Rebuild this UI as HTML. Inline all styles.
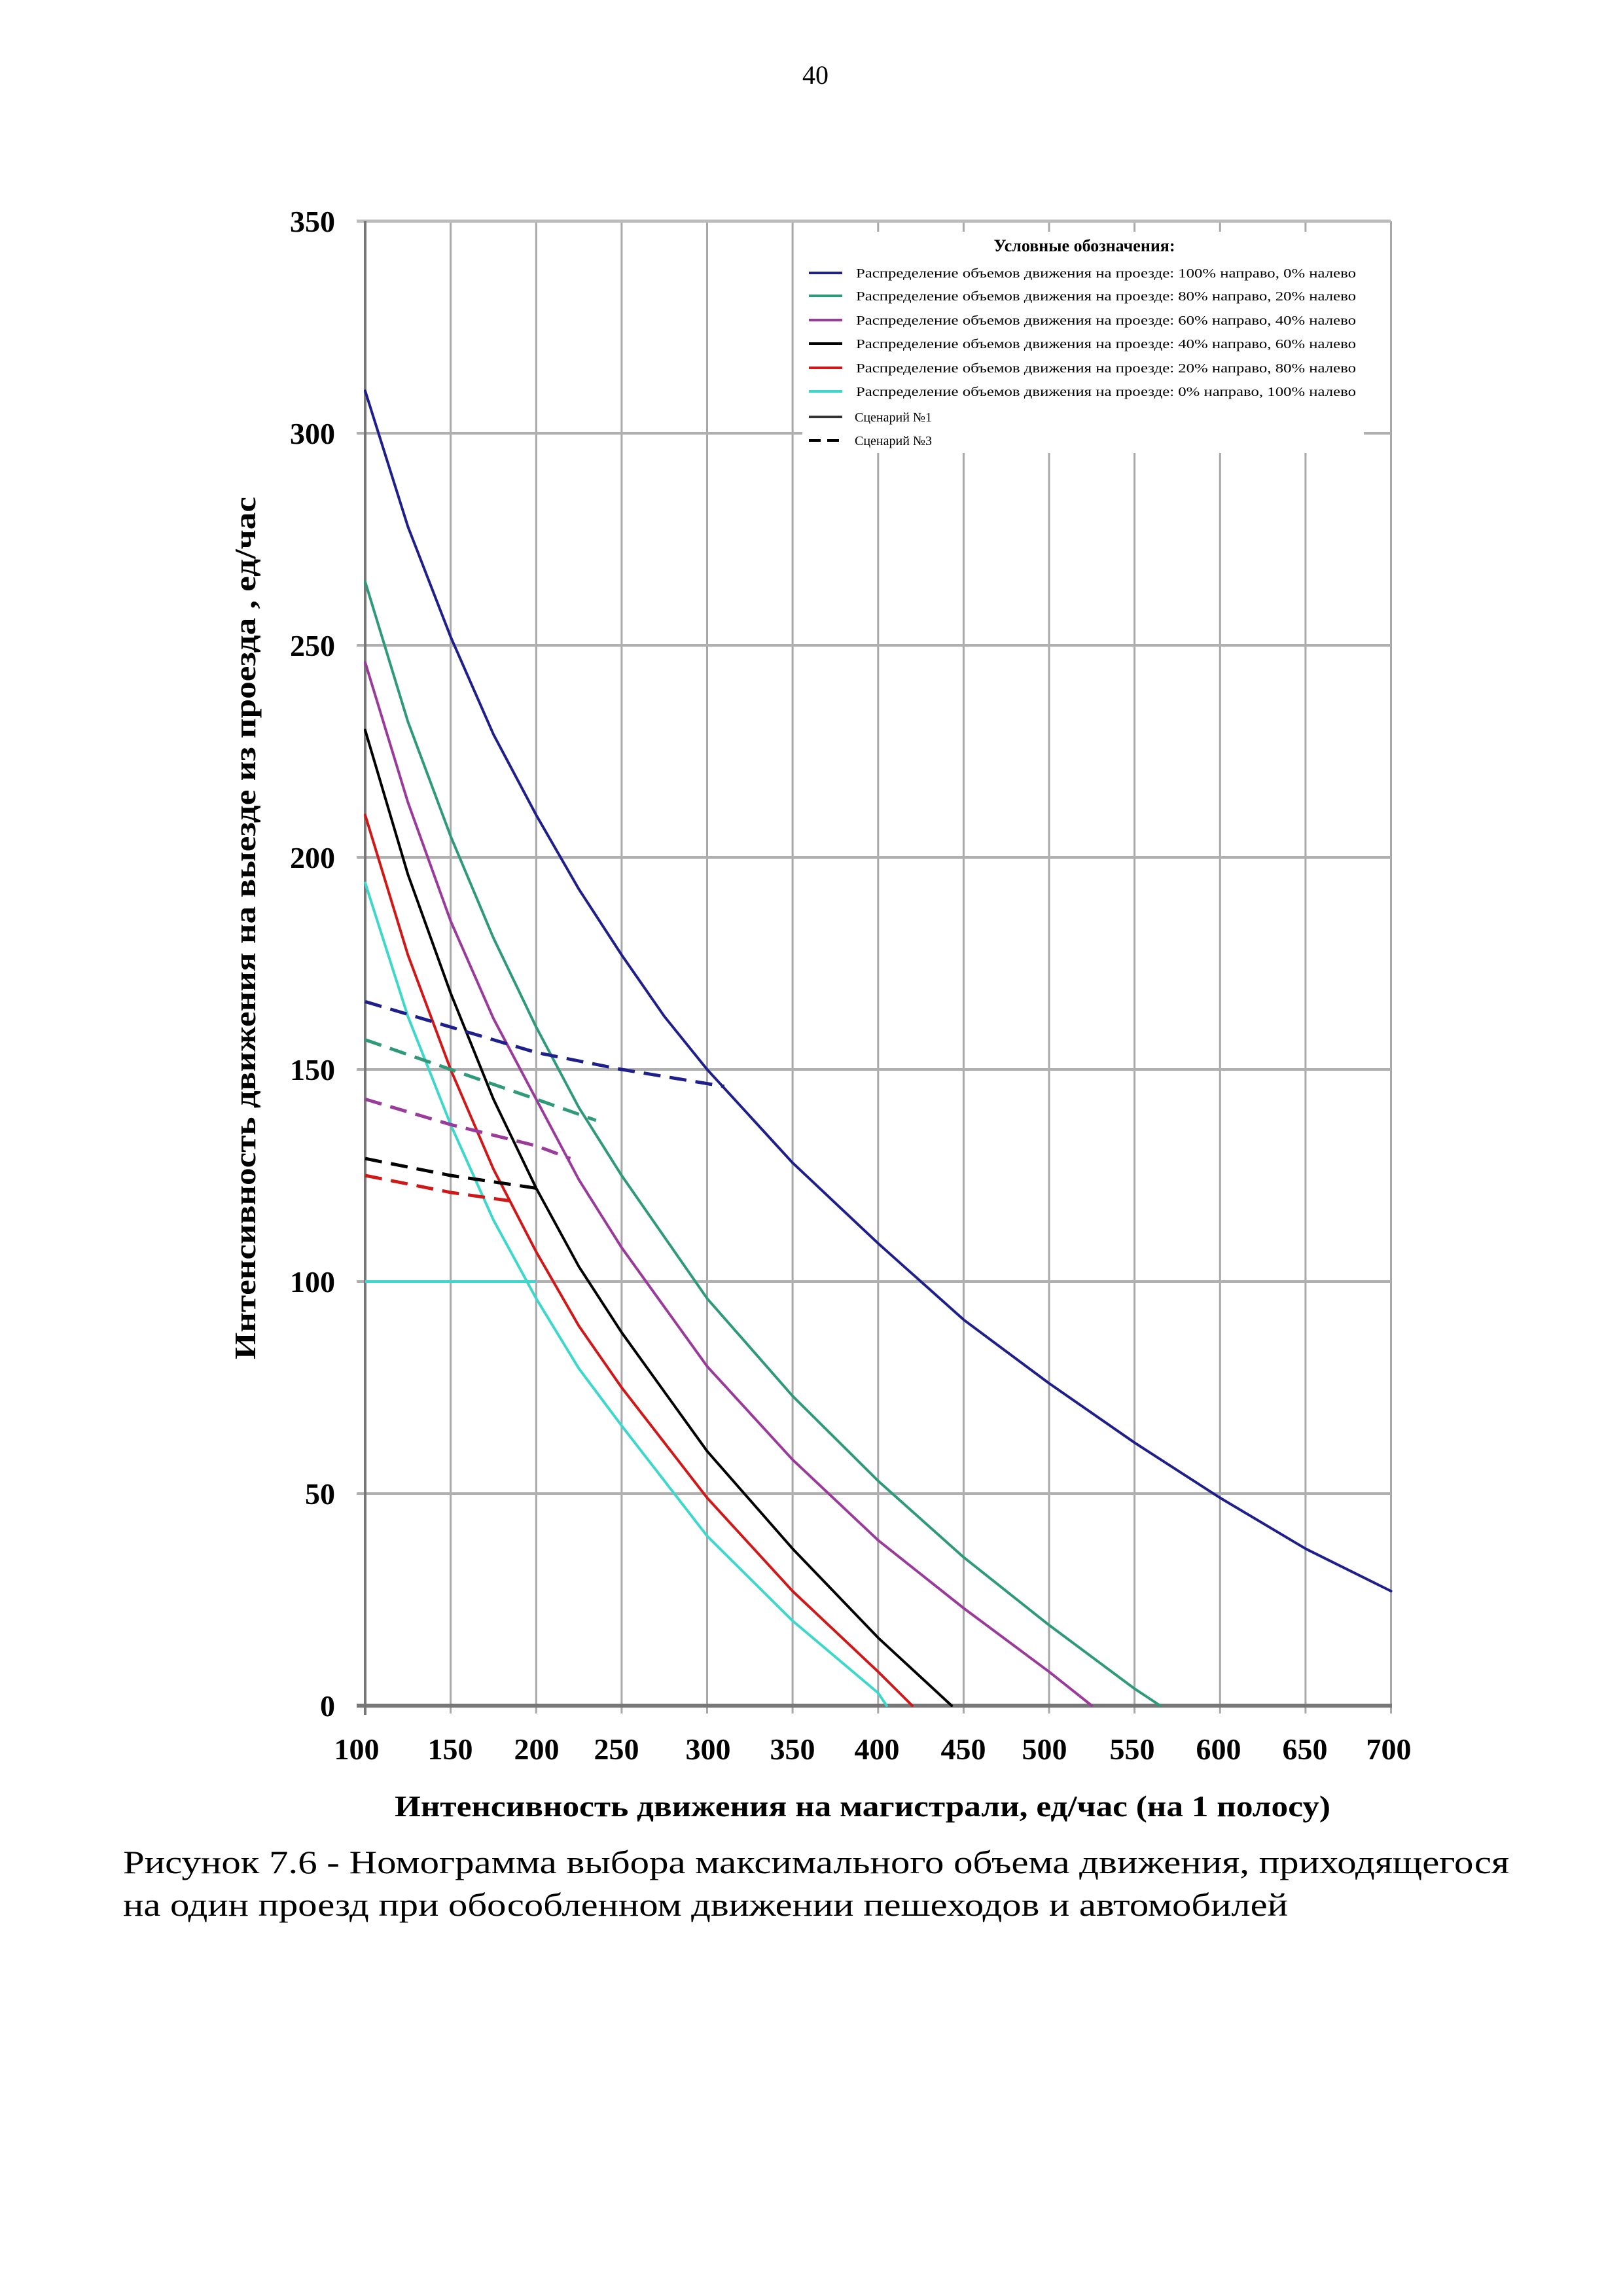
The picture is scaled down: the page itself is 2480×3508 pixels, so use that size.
<!DOCTYPE html>
<html><head><meta charset="utf-8"><style>
html,body{margin:0;padding:0;background:#fff;}
svg{display:block;}
</style></head><body>
<svg width="2480" height="3508" viewBox="0 0 2480 3508" xmlns="http://www.w3.org/2000/svg" font-family="Liberation Serif, serif">
<rect width="2480" height="3508" fill="#fff"/>
<text x="1246" y="128" font-size="40" text-anchor="middle">40</text>
<g stroke="#a8a8a8" stroke-width="3">
<line x1="688.6" y1="338" x2="688.6" y2="2618"/><line x1="819.3" y1="338" x2="819.3" y2="2618"/>
<line x1="949.9" y1="338" x2="949.9" y2="2618"/><line x1="1080.5" y1="338" x2="1080.5" y2="2618"/>
<line x1="1211.1" y1="338" x2="1211.1" y2="2618"/><line x1="1341.8" y1="338" x2="1341.8" y2="2618"/>
<line x1="1472.4" y1="338" x2="1472.4" y2="2618"/><line x1="1603" y1="338" x2="1603" y2="2618"/>
<line x1="1733.6" y1="338" x2="1733.6" y2="2618"/><line x1="1864.3" y1="338" x2="1864.3" y2="2618"/>
<line x1="1994.9" y1="338" x2="1994.9" y2="2618"/><line x1="2125.5" y1="338" x2="2125.5" y2="2618"/>
<line x1="545" y1="338" x2="2125" y2="338" stroke-width="5" stroke="#bbb"/>
<line x1="545" y1="662" x2="2125" y2="662" stroke-width="4" stroke="#b0b0b0"/>
<line x1="545" y1="986" x2="2125" y2="986" stroke-width="4" stroke="#b0b0b0"/>
<line x1="545" y1="1310" x2="2125" y2="1310" stroke-width="4" stroke="#b0b0b0"/>
<line x1="545" y1="1634" x2="2125" y2="1634" stroke-width="4" stroke="#b0b0b0"/>
<line x1="545" y1="1958" x2="2125" y2="1958" stroke-width="4" stroke="#b0b0b0"/>
<line x1="545" y1="2282" x2="2125" y2="2282" stroke-width="4" stroke="#b0b0b0"/>
</g>
<rect x="1226" y="354" width="858" height="338" fill="#fff"/>
<line x1="558" y1="338" x2="558" y2="2620" stroke="#777" stroke-width="4"/>
<line x1="545" y1="2606" x2="2127" y2="2606" stroke="#777" stroke-width="6"/>
<g font-weight="bold" font-size="46" text-anchor="end">
<text x="512" y="354">350</text><text x="512" y="678">300</text><text x="512" y="1002">250</text>
<text x="512" y="1326">200</text><text x="512" y="1650">150</text><text x="512" y="1974">100</text>
<text x="512" y="2298">50</text><text x="512" y="2622">0</text>
</g>
<g font-weight="bold" font-size="46" text-anchor="middle">
<text x="545" y="2688">100</text><text x="688" y="2688">150</text><text x="820" y="2688">200</text>
<text x="942" y="2688">250</text><text x="1082" y="2688">300</text><text x="1211" y="2688">350</text>
<text x="1340" y="2688">400</text><text x="1472" y="2688">450</text><text x="1596" y="2688">500</text>
<text x="1730" y="2688">550</text><text x="1862" y="2688">600</text><text x="1994" y="2688">650</text>
<text x="2122" y="2688">700</text>
</g>
<text x="1318" y="2775" font-weight="bold" font-size="46" text-anchor="middle" textLength="1430" lengthAdjust="spacingAndGlyphs">Интенсивность движения на магистрали, ед/час (на 1 полосу)</text>
<text transform="translate(390,1418) rotate(-90)" font-weight="bold" font-size="46" text-anchor="middle" textLength="1318" lengthAdjust="spacingAndGlyphs">Интенсивность движения на выезде из проезда , ед/час</text>
<g fill="none" stroke-width="4" stroke-linejoin="round" stroke-linecap="round">
<polyline stroke="#1e1e8c" points="558,597.2 623.3,804.6 688.6,973 754,1122 819.3,1245.2 884.6,1358.6 949.9,1459 1015.2,1553 1080.5,1634 1211.1,1776.6 1341.8,1899.7 1472.4,2016.3 1603,2113.5 1733.6,2204.2 1864.3,2288.5 1994.9,2366.2 2125.5,2431"/>
<polyline stroke="#2e9a7a" points="558,888.8 623.3,1102.6 688.6,1277.6 754,1433.1 819.3,1569.2 884.6,1692.3 949.9,1796 1080.5,1983.9 1211.1,2132.9 1341.8,2262.6 1472.4,2379.2 1603,2482.9 1733.6,2580.1 1772.8,2606"/>
<polyline stroke="#9a3a9a" points="558,1011.9 623.3,1225.8 688.6,1407.2 754,1556.2 819.3,1679.4 884.6,1802.5 949.9,1906.2 1080.5,2087.6 1211.1,2230.2 1341.8,2353.3 1472.4,2457 1603,2554.2 1668.3,2606"/>
<polyline stroke="#000" points="558,1115.6 623.3,1336 688.6,1517.4 754,1679.4 819.3,1815.4 884.6,1935.3 949.9,2035.8 1080.5,2217.2 1211.1,2366.2 1341.8,2502.3 1454.1,2606"/>
<polyline stroke="#d01818" points="558,1245.2 623.3,1459 688.6,1634 754,1786.3 819.3,1912.6 884.6,2026 949.9,2120 1080.5,2288.5 1211.1,2431 1341.8,2554.2 1394,2606"/>
<polyline stroke="#3dd8cc" points="558,1348.9 623.3,1553 688.6,1718.2 754,1864 819.3,1983.9 884.6,2091 949.9,2178.3 1080.5,2346.8 1211.1,2476.4 1341.8,2586.6 1354.8,2606"/>
</g>
<g fill="none" stroke-width="5" stroke-dasharray="26,14">
<polyline stroke="#1e1e8c" points="558,1530.3 688.6,1569.2 819.3,1608.1 949.9,1634 1106.6,1659.9"/>
<polyline stroke="#2e9a7a" points="558,1588.6 688.6,1634 819.3,1679.4 910.7,1711.8"/>
<polyline stroke="#9a3a9a" points="558,1679.4 688.6,1718.2 819.3,1750.6 871.5,1770.1"/>
<polyline stroke="#000" points="558,1770.1 688.6,1796 819.3,1815.4 832.3,1821.9"/>
<polyline stroke="#d01818" points="558,1796 688.6,1821.9 780.1,1834.9"/>
</g>
<line x1="558" y1="1958" x2="819" y2="1958" stroke="#3dd8cc" stroke-width="4"/>
<text x="1657" y="384" font-weight="bold" font-size="26" text-anchor="middle">Условные обозначения:</text>
<g stroke-width="4">
<line x1="1236" y1="417" x2="1287" y2="417" stroke="#1e1e8c"/>
<line x1="1236" y1="452" x2="1287" y2="452" stroke="#2e9a7a"/>
<line x1="1236" y1="489" x2="1287" y2="489" stroke="#9a3a9a"/>
<line x1="1236" y1="525" x2="1287" y2="525" stroke="#000"/>
<line x1="1236" y1="562" x2="1287" y2="562" stroke="#d01818"/>
<line x1="1236" y1="598" x2="1287" y2="598" stroke="#3dd8cc"/>
<line x1="1236" y1="637" x2="1287" y2="637" stroke="#333"/>
<line x1="1236" y1="673" x2="1287" y2="673" stroke="#000" stroke-dasharray="18,10"/>
</g>
<g font-size="20">
<text x="1308" y="424" textLength="764" lengthAdjust="spacingAndGlyphs">Распределение объемов движения на проезде: 100% направо, 0% налево</text>
<text x="1308" y="459" textLength="764" lengthAdjust="spacingAndGlyphs">Распределение объемов движения на проезде: 80% направо, 20% налево</text>
<text x="1308" y="496" textLength="764" lengthAdjust="spacingAndGlyphs">Распределение объемов движения на проезде: 60% направо, 40% налево</text>
<text x="1308" y="532" textLength="764" lengthAdjust="spacingAndGlyphs">Распределение объемов движения на проезде: 40% направо, 60% налево</text>
<text x="1308" y="569" textLength="764" lengthAdjust="spacingAndGlyphs">Распределение объемов движения на проезде: 20% направо, 80% налево</text>
<text x="1308" y="605" textLength="764" lengthAdjust="spacingAndGlyphs">Распределение объемов движения на проезде: 0% направо, 100% налево</text>
<text x="1306" y="644">Сценарий №1</text>
<text x="1306" y="680">Сценарий №3</text>
</g>
<text x="188" y="2862" font-size="50" textLength="2118" lengthAdjust="spacingAndGlyphs">Рисунок 7.6 - Номограмма выбора максимального объема движения, приходящегося</text>
<text x="188" y="2927" font-size="50" textLength="1780" lengthAdjust="spacingAndGlyphs">на один проезд при обособленном движении пешеходов и автомобилей</text>
</svg>
</body></html>
